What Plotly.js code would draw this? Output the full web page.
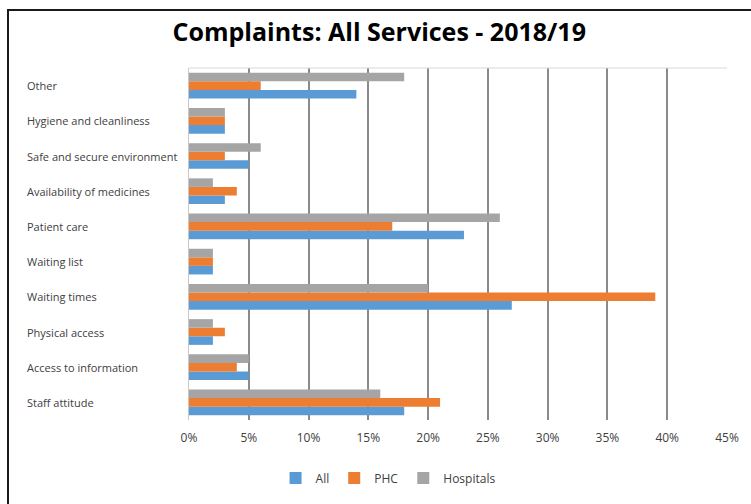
<!DOCTYPE html>
<html>
<head>
<meta charset="utf-8">
<script src="https://cdn.plot.ly/plotly-3.0.1.min.js"></script>
<style>
  html, body { margin: 0; padding: 0; background: #fff; }
  #wrap { position: relative; width: 751px; height: 504px; overflow: hidden; }
  #chart { position: absolute; left: 0; top: 0; width: 751px; height: 504px; }
  #frame { position: absolute; left: 7px; top: 9px; width: 800px; height: 600px;
           border-left: 2px solid #1a1a1a; border-top: 2px solid #1a1a1a; pointer-events: none; }
</style>
</head>
<body>
<div id="wrap">
  <div id="chart"></div>
  <div id="frame"></div>
</div>
<script>
// Categories listed top to bottom as in the chart
const categories = [
  "Other",
  "Hygiene and cleanliness",
  "Safe and secure environment",
  "Availability of medicines",
  "Patient care",
  "Waiting list",
  "Waiting times",
  "Physical access",
  "Access to information",
  "Staff attitude"
];
const allValues       = [14, 3, 5, 3, 23, 2, 27, 2, 5, 18];
const phcValues       = [ 6, 3, 3, 4, 17, 2, 39, 3, 4, 21];
const hospitalValues  = [18, 3, 6, 2, 26, 2, 20, 2, 5, 16];
const seriesNames = ["All", "PHC", "Hospitals"];
const seriesColors = ["#5B9BD5", "#ED7D31", "#A5A5A5"];
const titleText = "Complaints: All Services - 2018/19";

const seriesValues = [allValues, phcValues, hospitalValues];
const traces = seriesNames.map((name, i) => ({
  type: "bar",
  orientation: "h",
  name: name,
  x: seriesValues[i],
  y: categories,
  marker: { color: seriesColors[i] },
  hoverinfo: "x+y+name"
}));

const labelAnnotations = categories.map(c => ({
  text: c,
  xref: "paper", yref: "y",
  x: (25 - 189) / 538, y: c,
  xanchor: "left", yanchor: "middle",
  showarrow: false,
  font: { family: "Open Sans, sans-serif", size: 11, color: "#404040" }
}));

const layout = {
  width: 751, height: 504,
  margin: { l: 189, r: 24, t: 68, b: 84 },
  paper_bgcolor: "#fff", plot_bgcolor: "#fff",
  title: {
    text: "<b>" + titleText + "</b>",
    x: 0.505, xanchor: "center", y: 0.937, yanchor: "middle",
    font: { family: "Open Sans, sans-serif", size: 25, color: "#000" }
  },
  barmode: "group",
  bargap: 0.27,
  bargroupgap: 0,
  xaxis: {
    range: [0, 45], dtick: 5, tick0: 0,
    ticksuffix: "%",
    showgrid: true, gridcolor: "#8a8a8a", gridwidth: 1.5,
    zeroline: false, showline: false, ticks: "",
    ticklabelstandoff: 9,
    tickfont: { family: "Open Sans, sans-serif", size: 12, color: "#404040" },
    fixedrange: true
  },
  yaxis: {
    categoryorder: "array",
    categoryarray: categories.slice().reverse(),
    showticklabels: false, ticks: "",
    showgrid: false, zeroline: false,
    showline: true, linecolor: "#c8c8c8", linewidth: 1,
    fixedrange: true
  },
  shapes: [{
    type: "line", xref: "paper", yref: "paper",
    x0: 0, x1: 1, y0: 1, y1: 1,
    line: { color: "#d9d9d9", width: 1 }
  }],
  annotations: labelAnnotations,
  showlegend: true,
  legend: {
    orientation: "h",
    x: 0.37, xanchor: "center",
    y: -0.165, yanchor: "middle",
    font: { family: "Open Sans, sans-serif", size: 12, color: "#404040" },
    itemwidth: 30,
    traceorder: "normal"
  }
};

Plotly.newPlot("chart", traces, layout, { displayModeBar: false, staticPlot: false });
</script>
</body>
</html>
